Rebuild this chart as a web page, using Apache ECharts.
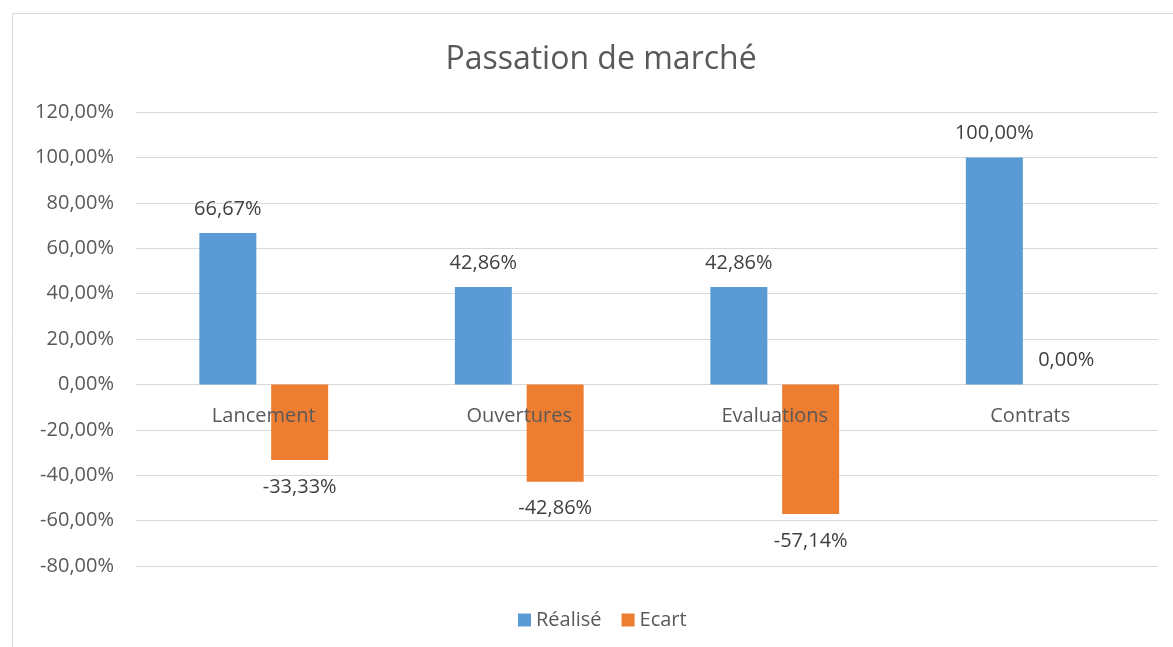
<!DOCTYPE html>
<html>
<head>
<meta charset="utf-8">
<title>Passation de marché</title>
<script src="https://cdn.jsdelivr.net/npm/echarts@6/dist/echarts.min.js"></script>
<style>
  html, body { margin: 0; padding: 0; background: #fff; }
  #chart { width: 1173px; height: 647px; }
</style>
</head>
<body>
<div id="chart"></div>
<script>
// données (en %)
var categories = ['Lancement', 'Ouvertures', 'Evaluations', 'Contrats']
var realise = [66.67, 42.86, 42.86, 100]
var ecart = [-33.33, -42.86, -57.14, 0]

var textColor = '#595959'
var font = '"Open Sans", "Noto Sans", sans-serif'
var fs = 20

function pct(v) {
  return v.toFixed(2).replace('.', ',') + '%'
}

var chart = echarts.init(document.getElementById('chart'))

var option = {
  animation: false,
  textStyle: { fontFamily: font, color: textColor },
  title: {
    text: 'Passation de marché',
    left: 596,
    textAlign: 'center',
    top: 39,
    textStyle: { fontFamily: font, fontSize: 32, fontWeight: 'normal', color: textColor }
  },
  graphic: [
    {
      type: 'rect',
      shape: { x: 12.5, y: 13.5, width: 1300, height: 800 },
      style: { fill: 'none', stroke: '#D9D9D9', lineWidth: 1 },
      silent: true
    }
  ],
  legend: {
    data: ['Réalisé', 'Ecart'],
    left: 513,
    top: 605,
    itemWidth: 13,
    itemHeight: 13,
    itemGap: 20,
    icon: 'rect',
    textStyle: { fontFamily: font, fontSize: fs, color: textColor }
  },
  grid: { left: 136, right: 15, top: 112, bottom: 81 },
  xAxis: {
    type: 'category',
    data: categories,
    axisTick: { show: false },
    axisLine: { onZero: true, lineStyle: { color: '#D9D9D9' } },
    axisLabel: { show: false }
  },
  yAxis: {
    type: 'value',
    min: -80,
    max: 120,
    interval: 20,
    axisLine: { show: false },
    axisTick: { show: false },
    splitLine: { lineStyle: { color: '#D9D9D9' } },
    axisLabel: { fontFamily: font, fontSize: fs, color: textColor, margin: 22, formatter: pct }
  },
  series: [
    {
      name: 'Réalisé',
      type: 'bar',
      data: realise,
      barWidth: 57,
      barGap: '26%',
      itemStyle: { color: '#5B9BD5' },
      label: {
        show: true,
        position: 'top',
        distance: 14,
        fontFamily: font,
        fontSize: fs,
        color: '#404040',
        formatter: function (p) { return pct(p.value) }
      }
    },
    {
      name: 'Ecart',
      type: 'bar',
      barWidth: 57,
      itemStyle: { color: '#ED7D31' },
      data: ecart.map(function (v) {
        return {
          value: v,
          label: { position: v < 0 ? 'bottom' : 'top', distance: v < 0 ? 17 : 14 }
        }
      }),
      label: {
        show: true,
        fontFamily: font,
        fontSize: fs,
        color: '#404040',
        formatter: function (p) { return pct(p.value) }
      }
    },
    {
      // noms de catégories posés sur la ligne du zéro, comme dans Excel
      name: 'cat',
      type: 'custom',
      z: 10,
      silent: true,
      data: categories.map(function (c, i) { return [i, 0] }),
      renderItem: function (params, api) {
        var pt = api.coord([api.value(0), 0])
        return {
          type: 'text',
          x: pt[0],
          y: pt[1] + 32,
          style: {
            text: categories[params.dataIndex],
            fontFamily: font,
            fontSize: fs,
            fill: textColor,
            align: 'center',
            verticalAlign: 'middle'
          }
        }
      }
    }
  ]
}

chart.setOption(option)
</script>
</body>
</html>
